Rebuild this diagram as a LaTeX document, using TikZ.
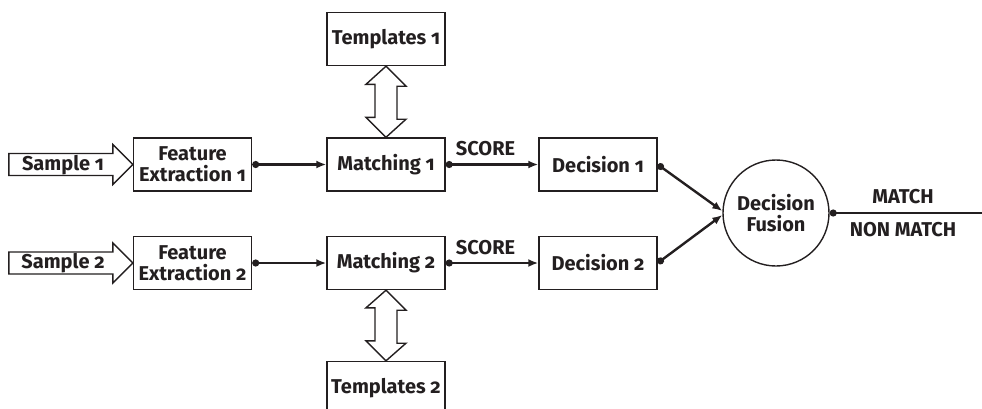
\documentclass[tikz,border=0pt]{standalone}
\usepackage{fontspec}
\setmainfont{Fira Sans}[Numbers=OldStyle]
\usetikzlibrary{arrows.meta,calc}
\definecolor{ink}{HTML}{231F20}
\begin{document}
\begin{tikzpicture}[x=1pt,y=-1pt,
  every node/.style={font=\fontsize{20}{21}\selectfont\bfseries, text=ink},
  blk/.style={draw=ink, line width=1.4pt, minimum width=118pt, minimum height=53pt, align=center, inner sep=0pt},
  conn/.style={draw=ink, line width=2.4pt, {Circle[length=7pt]}-{Latex[length=10pt,width=8pt]}},
  fat/.style={draw=ink, line width=1.4pt, fill=white, line join=miter},
  lbl/.style={inner sep=0pt}]
\useasboundingbox (0,0) rectangle (982,408);
% blocks
\node[blk] (tpl1) at (386,39) {Templates 1};
\node[blk] (fe1) at (192.5,164.5) {Feature\\Extraction 1};
\node[blk] (m1) at (386,164.5) {Matching 1};
\node[blk] (d1) at (598,164.5) {Decision 1};
\node[blk] (fe2) at (192.5,263) {Feature\\Extraction 2};
\node[blk] (m2) at (386,263) {Matching 2};
\node[blk] (d2) at (598,263) {Decision 2};
\node[blk] (tpl2) at (386,388) {Templates 2};
\node[draw=ink, line width=1.4pt, circle, minimum size=106pt, inner sep=0pt, align=center] (fus) at (776,213) {Decision\\Fusion};
% sample arrows
\draw[fat] (fe1.west) -- ++(-20,-20) -- ++(0,9) -- ++(-104,0) -- ++(0,22) -- ++(104,0) -- ++(0,9) -- cycle;
\node[lbl] (s1) at (63,165) {Sample 1};
\draw[fat] (fe2.west) -- ++(-20,-20) -- ++(0,9) -- ++(-104,0) -- ++(0,22) -- ++(104,0) -- ++(0,9) -- cycle;
\node[lbl] (s2) at (63,263) {Sample 2};
% double arrows
\draw[fat] (tpl1.south) -- ++(20,20) -- ++(-9,0) -- ++(0,33) -- ++(9,0) -- (m1.north) -- ++(-20,-20) -- ++(9,0) -- ++(0,-33) -- ++(-9,0) -- cycle;
\draw[fat] (m2.south) -- ++(20,20) -- ++(-9,0) -- ++(0,33) -- ++(9,0) -- (tpl2.north) -- ++(-20,-20) -- ++(9,0) -- ++(0,-33) -- ++(-9,0) -- cycle;
% connectors
\draw[conn] (fe1.east) -- (m1.west);
\draw[conn] (fe2.east) -- (m2.west);
\draw[conn] (m1.east) -- node[lbl, pos=0.43, above=7pt] (sc1) {SCORE} (d1.west);
\draw[conn] (m2.east) -- node[lbl, pos=0.43, above=7pt] (sc2) {SCORE} (d2.west);
\draw[conn] (d1.east) -- ($(fus.west)+(0,-2)$);
\draw[conn] (d2.east) -- ($(fus.west)+(0,2)$);
\coordinate (out) at (982,213);
\draw[draw=ink, line width=2.4pt, {Circle[length=7pt]}-] (fus.east) -- (out);
\node[lbl] (match) at (903,197) {MATCH};
\node[lbl] (nonmatch) at (903,230) {NON MATCH};
\end{tikzpicture}
\end{document}
